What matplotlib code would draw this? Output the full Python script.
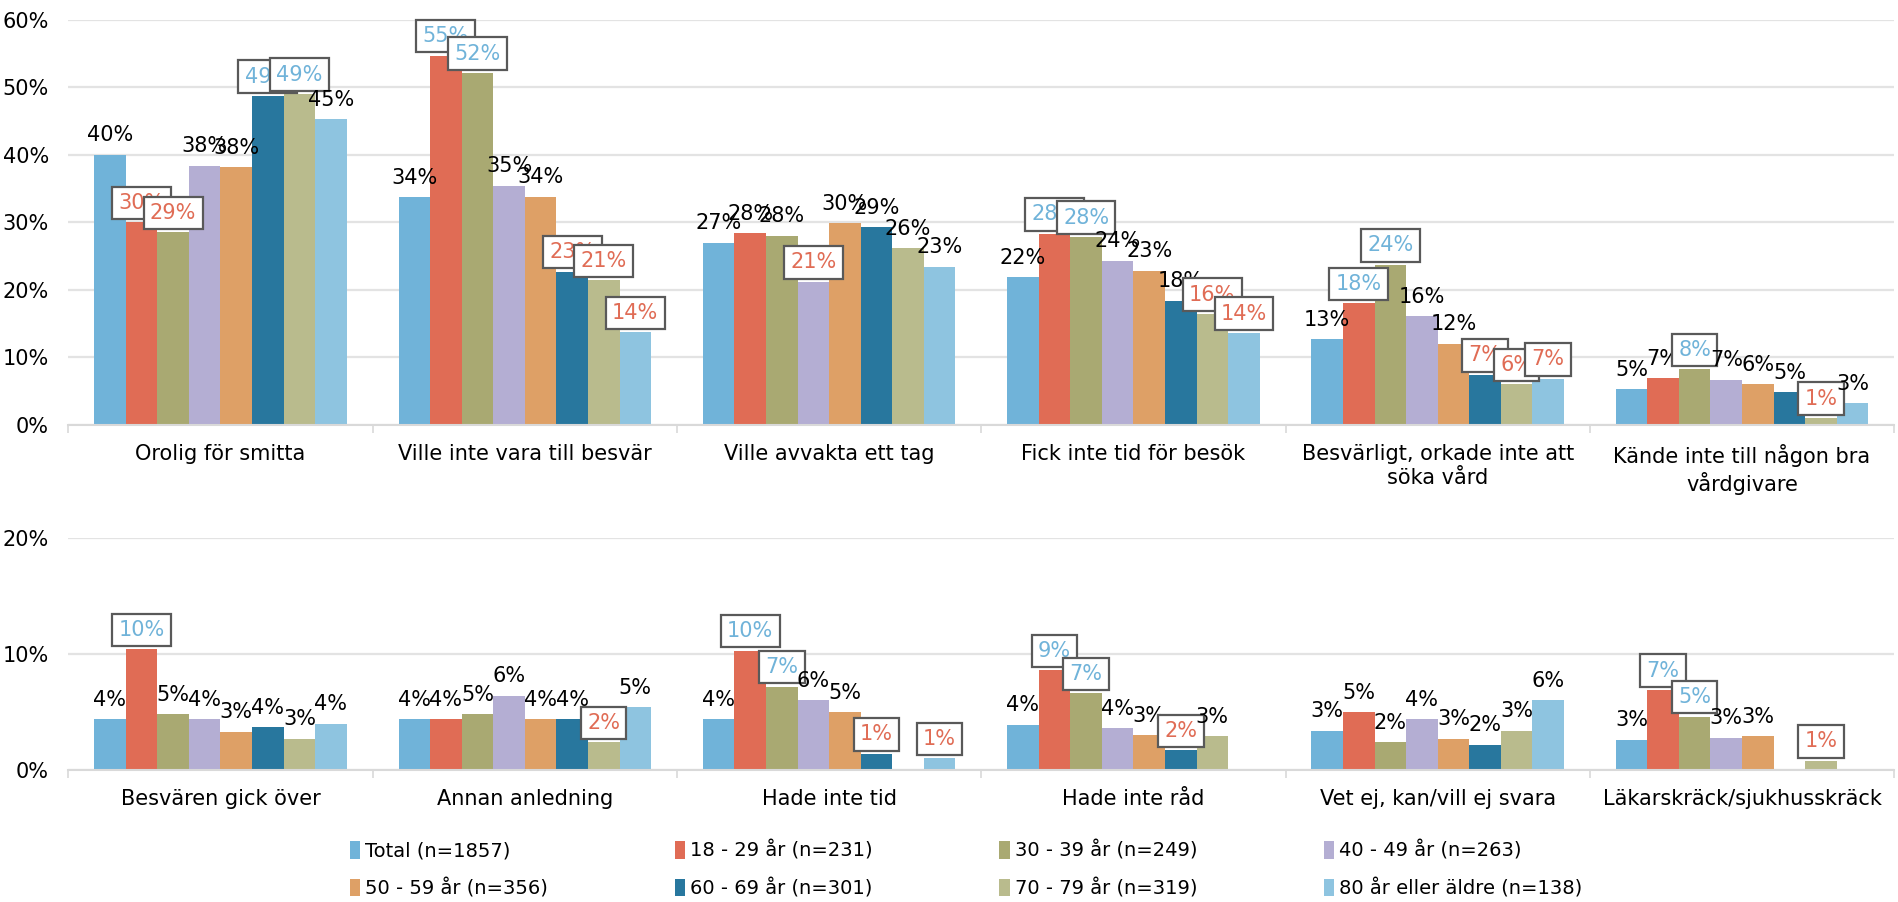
import numpy as np
import matplotlib
matplotlib.use('Agg')
from matplotlib import pyplot as plt
from matplotlib.patches import Patch

# reasons for not seeking care, by age group (share of respondents, %)

series = ['Total (n=1857)', '18 - 29 år (n=231)', '30 - 39 år (n=249)', '40 - 49 år (n=263)',
          '50 - 59 år (n=356)', '60 - 69 år (n=301)', '70 - 79 år (n=319)', '80 år eller äldre (n=138)']
colors = ['#70b3d9', '#e06c55', '#a9a972', '#b4aed3', '#dea066', '#28779e', '#b9bb8d', '#8ec4e0']

categories_top = ['Orolig för smitta', 'Ville inte vara till besvär', 'Ville avvakta ett tag',
                  'Fick inte tid för besök', 'Besvärligt, orkade inte att\nsöka vård',
                  'Kände inte till någon bra\nvårdgivare']
values_top = [
    [40.0, 30.0, 28.5, 38.4, 38.2, 48.7, 49.0, 45.3],
    [33.7, 54.7, 52.1, 35.4, 33.8, 22.7, 21.4, 13.7],
    [27.0, 28.4, 28.0, 21.2, 29.9, 29.3, 26.2, 23.4],
    [21.9, 28.3, 27.8, 24.3, 22.8, 18.4, 16.4, 13.6],
    [12.7, 18.0, 23.7, 16.1, 12.0, 7.4, 6.0, 6.8],
    [5.3, 6.9, 8.2, 6.7, 6.0, 4.8, 1.0, 3.2],
]
# h = significantly higher, l = significantly lower
sig_top = ['.ll..hh.', '.hh..lll', '...l....', '.hh...ll', '.hh..lll', '..h...l.']

categories_bottom = ['Besvären gick över', 'Annan anledning', 'Hade inte tid', 'Hade inte råd',
                     'Vet ej, kan/vill ej svara', 'Läkarskräck/sjukhusskräck']
values_bottom = [
    [4.4, 10.4, 4.8, 4.4, 3.3, 3.7, 2.7, 4.0],
    [4.4, 4.4, 4.8, 6.4, 4.4, 4.4, 2.4, 5.4],
    [4.4, 10.3, 7.2, 6.0, 5.0, 1.4, np.nan, 1.0],
    [3.9, 8.6, 6.6, 3.6, 3.0, 1.7, 2.9, np.nan],
    [3.4, 5.0, 2.4, 4.4, 2.7, 2.2, 3.4, 6.0],
    [2.6, 6.9, 4.6, 2.8, 2.9, np.nan, 0.8, np.nan],
]
sig_bottom = ['.h......', '......l.', '.hh..l.l', '.hh..l..', '........', '.hh...l.']

FS = 15
plt.rcParams['font.family'] = ['DejaVu Sans']


def panel(ax, cats, vals, sig, ymax):
    vals = np.array(vals, dtype=float)
    n = len(series)
    x = np.arange(len(cats))
    w = 0.83 / n
    for j in range(n):
        xs = x + (j - (n - 1) / 2) * w
        ax.bar(xs, np.nan_to_num(vals[:, j]), width=w, color=colors[j], zorder=2)
        for i in range(len(cats)):
            v = vals[i, j]
            if np.isnan(v):
                continue
            txt = '%d%%' % int(v + 0.5)
            s = sig[i][j]
            kw = dict(textcoords='offset points', xytext=(0, 14), ha='center', va='center',
                      fontsize=FS, zorder=5)
            if s == '.':
                ax.annotate(txt, (xs[i], v), color='black', **kw)
            else:
                ax.annotate(txt, (xs[i], v), color='#70b3d9' if s == 'h' else '#e06c55',
                            bbox=dict(boxstyle='square,pad=0.3', fc='white', ec='#595959', lw=1.6),
                            **kw)
    ax.set_xlim(-0.5, len(cats) - 0.5)
    ax.set_ylim(0, ymax)
    ax.set_yticks(np.arange(0, ymax + 1, 10))
    ax.set_yticklabels(['%d%%' % t for t in np.arange(0, ymax + 1, 10)], fontsize=FS)
    ax.set_xticks(x)
    ax.set_xticklabels(cats, fontsize=FS, linespacing=1.25)
    ax.set_xticks(np.arange(len(cats) + 1) - 0.5, minor=True)
    ax.tick_params(axis='x', which='major', length=0, pad=14)
    ax.tick_params(axis='x', which='minor', length=6, color='#d9d9d9', width=1.2)
    ax.tick_params(axis='y', length=0, pad=14)
    ax.yaxis.grid(True, color='#e3e3e3', linewidth=1.6, zorder=0)
    ax.set_axisbelow(True)
    for sp in ['top', 'right', 'left']:
        ax.spines[sp].set_visible(False)
    ax.spines['bottom'].set_color('#d9d9d9')
    ax.spines['bottom'].set_linewidth(1.5)


fig = plt.figure(figsize=(18.98, 9.02), dpi=100)
ax1 = fig.add_axes([0.036, 0.529, 0.962, 0.449])
ax2 = fig.add_axes([0.036, 0.1463, 0.962, 0.2572])

panel(ax1, categories_top, values_top, sig_top, 60)
panel(ax2, categories_bottom, values_bottom, sig_bottom, 20)

# legend is filled row by row in the reference, matplotlib fills by column
order = [0, 4, 1, 5, 2, 6, 3, 7]
handles = [Patch(facecolor=colors[k]) for k in order]
labels = [series[k] for k in order]
fig.legend(handles, labels, ncol=4, loc='center', bbox_to_anchor=(0.509, 0.036), frameon=False,
           prop={'family': ['Liberation Sans Narrow', 'DejaVu Sans'], 'size': 14},
           handlelength=0.55, handleheight=1.0, handletextpad=0.25, columnspacing=6.5,
           labelspacing=0.9, borderpad=0)

fig.savefig('out.png', dpi=100)
